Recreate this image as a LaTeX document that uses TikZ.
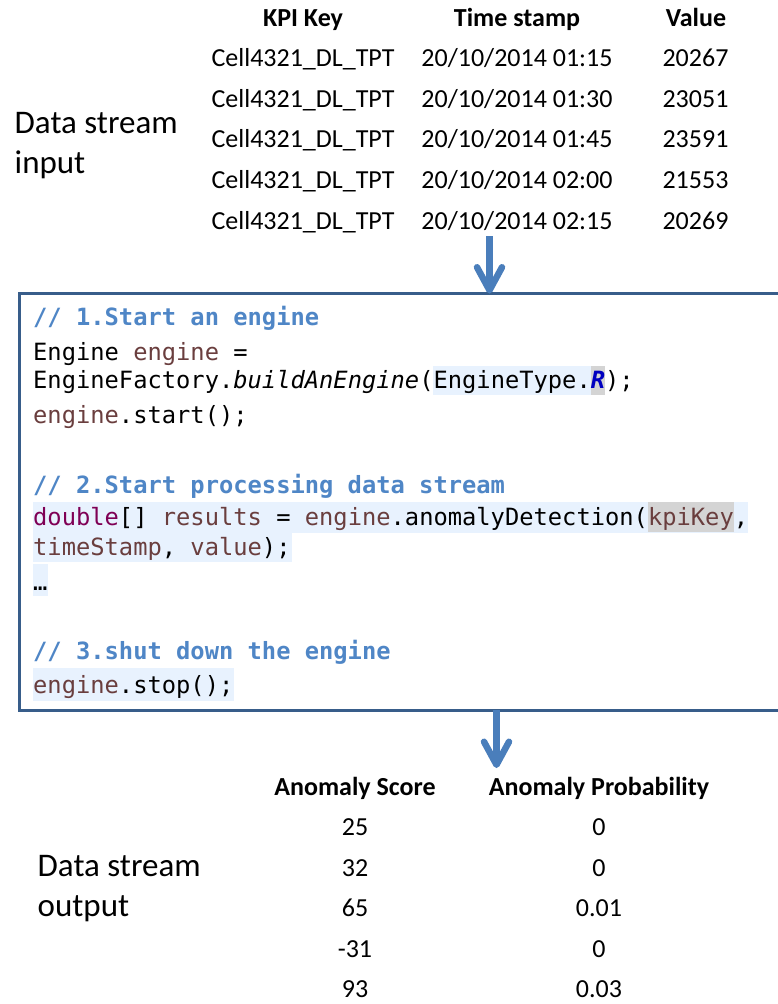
\documentclass[tikz,border=0pt]{standalone}
\usepackage{fontspec}
\setmainfont{Carlito}
\newfontfamily\codefont{DejaVu Sans Mono}
\usetikzlibrary{arrows.meta}

\definecolor{flowblue}{HTML}{4A7EBB}
\definecolor{edgeblue}{HTML}{385D8A}
\definecolor{cmt}{HTML}{4F86C6}
\definecolor{var}{HTML}{6A3E3E}
\definecolor{kw}{HTML}{7F0055}
\definecolor{enumc}{HTML}{0000C0}
\definecolor{selbg}{HTML}{E8F2FE}
\definecolor{occbg}{HTML}{D4D4D4}

\tikzset{
  tbl/.style={inner sep=0pt, anchor=base, font=\fontsize{26}{26}\selectfont},
  tblhead/.style={inner sep=0pt, anchor=base, font=\fontsize{26}{26}\selectfont\bfseries},
  lbl/.style={inner sep=0pt, anchor=base west, font=\fontsize{33}{33}\selectfont},
  codeln/.style={inner sep=0pt, anchor=base west, font=\codefont\fontsize{23.75}{24}\selectfont},
  cmtln/.style={inner sep=0pt, anchor=base west, text=cmt, font=\codefont\fontsize{23.75}{24}\selectfont\bfseries},
  boxedge/.style={draw=edgeblue, line width=2.6pt},
  flow/.style={draw=flowblue, line width=6.5pt, -{Straight Barb[length=23pt,width=25pt,round]}},
}

\begin{document}
\begin{tikzpicture}[x=1pt,y=-1pt]
\useasboundingbox (0,0) rectangle (778,1004);

% ---------- input stream table ----------
\node[tblhead] (hkey)  at (303,26) {KPI Key};
\node[tblhead] (htime) at (517,26) {Time stamp};
\node[tblhead] (hval)  at (696,26) {Value};
\foreach \i/\y/\tm/\vl in {1/66.5/01:15/20267, 2/107.2/01:30/23051, 3/147.8/01:45/23591, 4/188.4/02:00/21553, 5/229/02:15/20269} {
  \node[tbl] (key\i)  at (303,\y)   {Cell4321\_DL\_TPT};
  \node[tbl] (time\i) at (517,\y)   {20/10/2014 \tm};
  \node[tbl] (val\i)  at (695.5,\y) {\vl};
}
\node[lbl] (inlbla) at (14.5,133) {Data stream};
\node[lbl] (inlblb) at (14.5,173) {input};

% ---------- code panel (open to the right, runs past the page edge) ----------
\node[inner sep=0pt, minimum width=790pt, minimum height=416.5pt, anchor=north west] (code) at (19.5,293.5) {};

% editor highlights
\fill[selbg] (433.4,366) rectangle (590.7,395);
\fill[occbg] (590.7,366) rectangle (605,395);
\fill[selbg] (33,502) rectangle (748,533);
\fill[occbg] (647.9,502) rectangle (733.7,532);
\fill[selbg] (33,533) rectangle (292,562);
\fill[selbg] (33,564) rectangle (48,596);
\fill[selbg] (33,668) rectangle (234,701);

\node[cmtln]  (c1)  at (33,325)   {// 1.Start an engine};
\node[codeln] (c2)  at (33,360)   {Engine \textcolor{var}{engine} =};
\node[codeln] (c3)  at (33,388.3) {EngineFactory.\textit{buildAnEngine}(EngineType.\textcolor{enumc}{\textbf{\textit{R}}});};
\node[codeln] (c4)  at (33,423)   {\textcolor{var}{engine}.start();};
\node[cmtln]  (c5)  at (33,493)   {// 2.Start processing data stream};
\node[codeln] (c6)  at (33,525)   {\textcolor{kw}{double}[] \textcolor{var}{results} = \textcolor{var}{engine}.anomalyDetection(\textcolor{var}{kpiKey},};
\node[codeln] (c7)  at (33,555)   {\textcolor{var}{timeStamp}, \textcolor{var}{value});};
\node[codeln] (c8)  at (33,590)   {…};
\node[cmtln]  (c9)  at (33,659)   {// 3.shut down the engine};
\node[codeln] (c10) at (33,693)   {\textcolor{var}{engine}.stop();};

\draw[boxedge] (code.north east) -- (code.north west) -- (code.south west) -- (code.south east);

% ---------- flow arrows ----------
\coordinate (inStream) at (489.5,236);
\draw[flow] (inStream) -- (inStream |- code.north);
\coordinate (outStream) at (496.5,768);
\draw[flow] (outStream |- code.south) -- (outStream);

% ---------- output stream table ----------
\node[tblhead] (hscore) at (355,795) {Anomaly Score};
\node[tblhead] (hprob)  at (599,795) {Anomaly Probability};
\foreach \i/\y/\sc/\pr in {1/835.5/25/0, 2/876/32/0, 3/916.7/65/0.01, 4/957.3/-31/0, 5/997.5/93/0.03} {
  \node[tbl] (score\i) at (355,\y) {\sc};
  \node[tbl] (prob\i)  at (599,\y) {\pr};
}
\node[lbl] (outlbla) at (37.5,876)   {Data stream};
\node[lbl] (outlblb) at (37.5,916.7) {output};
\end{tikzpicture}
\end{document}
